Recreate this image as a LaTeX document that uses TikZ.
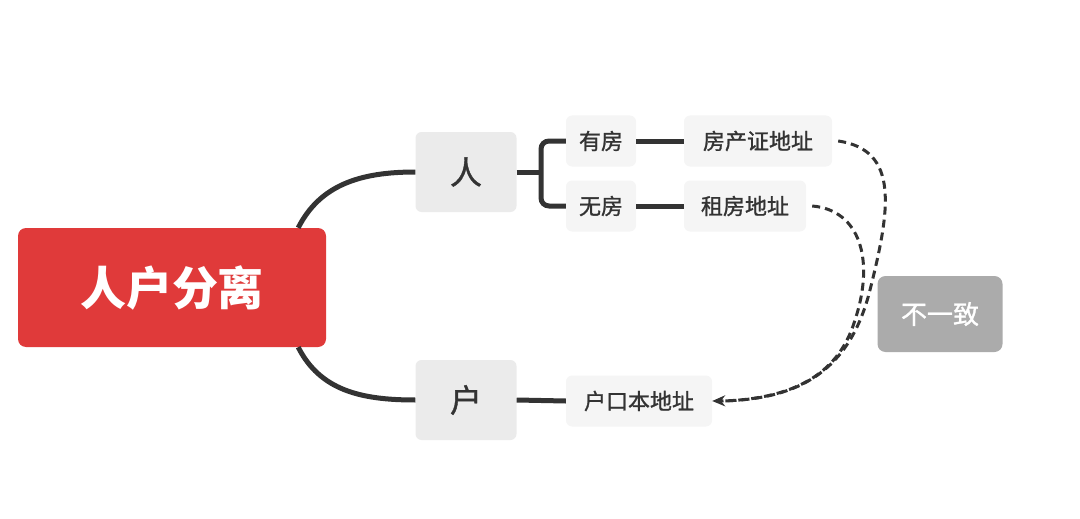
\documentclass[tikz,border=0pt]{standalone}
\usepackage{fontspec}
\newfontfamily\cjk{Noto Sans CJK SC}
\newfontfamily\cjkm{Noto Sans CJK SC}[FakeBold=1.2]
\usetikzlibrary{arrows.meta}
\definecolor{boxg}{HTML}{EBEBEB}
\definecolor{leafg}{HTML}{F5F5F5}
\definecolor{redm}{HTML}{E03A3A}
\definecolor{line}{HTML}{333333}
\begin{document}
\begin{tikzpicture}[x=1pt,y=-1pt,
  box/.style={fill=boxg,rounded corners=6pt,minimum width=101pt,minimum height=80pt,font=\cjkm\fontsize{32}{32}\selectfont,text=line},
  leaf/.style={fill=leafg,rounded corners=6pt,minimum height=51pt,inner xsep=10pt,font=\cjkm\fontsize{22}{22}\selectfont,text=line},
  conn/.style={line width=5pt,draw=line},
  dashl/.style={line width=3pt,draw=line,dash pattern=on 8pt off 5pt}]
\useasboundingbox (0,0) rectangle (1080,519);
\node[fill=redm,rounded corners=8pt,minimum width=308pt,minimum height=119pt,text=white,font=\cjk\bfseries\fontsize{46}{46}\selectfont] (main) at (172,287.5) {人户分离};
\node[box] (ren) at (466,172) {人};
\node[box] (hu) at (466,400) {户};
\node[leaf,minimum width=70pt] (you) at (601,141) {有房};
\node[leaf,minimum width=70pt] (wu) at (601,206) {无房};
\node[leaf,minimum width=148pt] (fcz) at (758,141) {房产证地址};
\node[leaf,minimum width=122pt] (zf) at (745,206) {租房地址};
\node[leaf,minimum width=146pt] (hkb) at (639,401) {户口本地址};
\node[fill=black!33,rounded corners=8pt,minimum width=125pt,minimum height=76pt,text=white,font=\cjkm\fontsize{26}{26}\selectfont] (byz) at (940,314) {不一致};
\draw[conn] (main.north east)++(-28,0) .. controls (320,185) and (360,172) .. (ren.west);
\draw[conn] (main.south east)++(-28,0) .. controls (320,390) and (360,400) .. (hu.west);
\coordinate (br) at (541,172);
\draw[conn] (ren.east) -- (br);
\draw[conn,rounded corners=8pt] (you.west) -- (541,141) -- (br) -- (541,206) -- (wu.west);
\draw[conn] (you.east) -- (fcz.west);
\draw[conn] (wu.east) -- (zf.west);
\draw[conn] (hu.east) -- (hkb.west);
\draw[dashl,-{Stealth[length=13pt,width=11pt]}] (fcz.east)++(6,0) .. controls (900,150) and (890,210) .. (870,290) .. controls (850,370) and (800,400) .. (hkb.east);
\draw[dashl] (zf.east)++(6,0) .. controls (860,210) and (875,260) .. (855,320) .. controls (840,370) and (800,398) .. ([xshift=12pt]hkb.east);
\end{tikzpicture}
\end{document}
